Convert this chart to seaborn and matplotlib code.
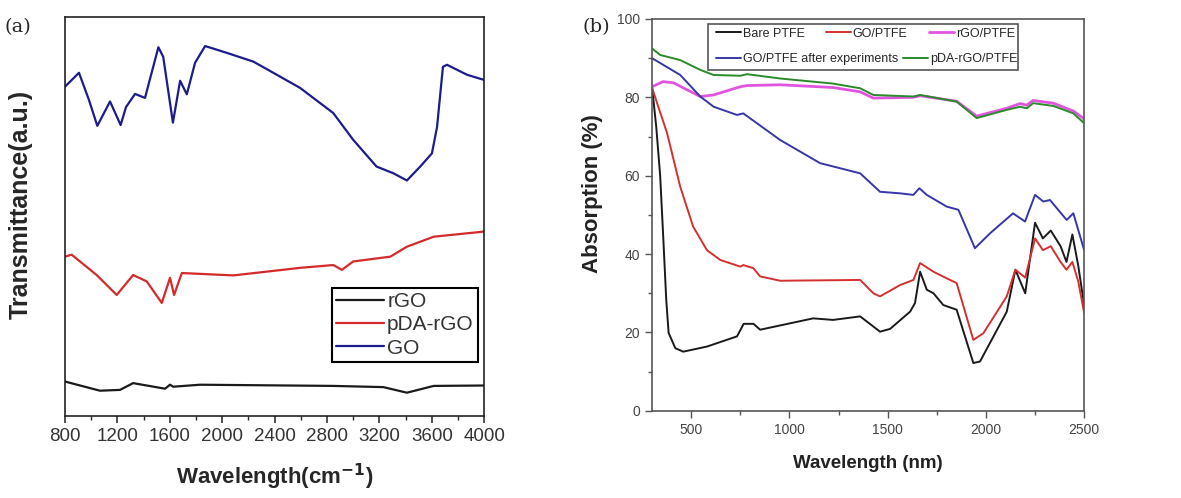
import numpy as np
import pandas as pd
import matplotlib
matplotlib.use("Agg")
import matplotlib.pyplot as plt
from matplotlib.ticker import MultipleLocator
from matplotlib.patches import Rectangle
import seaborn as sns

# ---------------- Panel (a) data: FTIR (arbitrary units) ----------------
go_x = [800, 907, 983, 1047, 1144, 1225, 1266, 1335, 1411, 1513, 1550, 1624, 1679, 1730,
        1793, 1870, 2035, 2238, 2390, 2595, 2848, 3000, 3178, 3307, 3410, 3512, 3601,
        3640, 3685, 3716, 3869, 4000]
go_y = [82.5, 86.0, 79.2, 72.7, 78.8, 72.9, 77.4, 80.7, 79.7, 92.4, 90.0, 73.5, 84.0, 80.6,
        88.5, 92.7, 91.0, 88.8, 86.0, 82.2, 75.9, 69.2, 62.5, 60.8, 59.0, 62.5, 65.8,
        72.4, 87.5, 88.0, 85.5, 84.2]

pda_x = [800, 851, 1042, 1195, 1320, 1424, 1539, 1602, 1633, 1692, 2085, 2595, 2848, 2914,
         3000, 3283, 3410, 3614, 4000]
pda_y = [39.9, 40.4, 35.3, 30.3, 35.3, 33.7, 28.3, 34.6, 30.3, 35.8, 35.2, 37.1, 37.8, 36.6,
         38.7, 39.9, 42.4, 44.9, 46.2]

rgo_x = [800, 1067, 1220, 1320, 1564, 1602, 1626, 1831, 2848, 3230, 3410, 3614, 4000]
rgo_y = [8.6, 6.3, 6.5, 8.2, 6.8, 7.8, 7.3, 7.8, 7.5, 7.2, 5.8, 7.5, 7.6]

a_xticks = [800, 1200, 1600, 2000, 2400, 2800, 3200, 3600, 4000]

# ---------------- Panel (b) data: absorption (%) ----------------
bare_x = [300, 322, 342, 357, 373, 385, 419, 459, 580, 733, 767, 817, 851, 1121, 1222, 1360,
          1461, 1512, 1614, 1639, 1665, 1699, 1733, 1783, 1851, 1936, 1970, 2106, 2150,
          2200, 2250, 2290, 2330, 2380, 2410, 2440, 2470, 2500]
bare_y = [83.0, 72.5, 60.0, 45.0, 28.3, 19.9, 16.0, 15.1, 16.4, 19.0, 22.2, 22.2, 20.7, 23.6,
          23.2, 24.1, 20.2, 20.9, 25.3, 27.5, 35.5, 30.9, 30.0, 27.0, 25.8, 12.2, 12.6, 25.3,
          36.0, 30.0, 48.0, 44.0, 46.0, 42.0, 38.0, 45.0, 37.0, 27.0]

gopt_x = [300, 377, 444, 510, 580, 648, 750, 765, 816, 851, 953, 1360, 1427, 1461, 1563,
          1631, 1665, 1733, 1801, 1851, 1936, 1987, 2106, 2150, 2200, 2250, 2290, 2330,
          2380, 2410, 2440, 2470, 2500]
gopt_y = [82.5, 70.9, 57.2, 47.0, 41.0, 38.5, 36.8, 37.2, 36.4, 34.3, 33.2, 33.4, 30.0, 29.2,
          32.1, 33.4, 37.7, 35.5, 33.8, 32.6, 18.1, 19.8, 29.2, 36.0, 34.0, 44.0, 41.0, 42.0,
          38.0, 36.0, 38.0, 33.0, 25.0]

rgopt_x = [300, 357, 410, 546, 614, 750, 784, 953, 1222, 1360, 1427, 1631, 1665, 1851, 1953,
           2106, 2174, 2208, 2240, 2343, 2445, 2500]
rgopt_y = [82.7, 84.0, 83.7, 80.2, 80.6, 82.7, 83.0, 83.2, 82.5, 81.4, 79.8, 80.0, 80.4, 79.0,
           75.2, 77.2, 78.4, 78.0, 79.2, 78.5, 76.5, 74.5]

after_x = [300, 444, 546, 614, 733, 765, 953, 1156, 1360, 1461, 1563, 1631, 1661, 1699, 1801,
           1860, 1944, 2021, 2138, 2199, 2250, 2292, 2326, 2411, 2445, 2500]
after_y = [90.0, 85.7, 80.2, 77.6, 75.5, 75.9, 69.1, 63.2, 60.6, 55.9, 55.5, 55.1, 56.8, 55.1,
           52.1, 51.3, 41.5, 45.3, 50.4, 48.3, 55.1, 53.4, 53.8, 48.7, 50.4, 41.0]

pda_pt_x = [300, 342, 444, 546, 614, 750, 784, 953, 1222, 1360, 1427, 1631, 1665, 1851, 1953,
            2106, 2174, 2208, 2240, 2343, 2445, 2500]
pda_pt_y = [92.5, 90.8, 89.5, 87.0, 85.7, 85.5, 85.9, 84.8, 83.5, 82.3, 80.6, 80.2, 80.6, 78.9,
            74.7, 76.8, 77.6, 77.2, 78.5, 77.8, 75.9, 73.4]

b_xticks = [500, 1000, 1500, 2000, 2500]
b_yticks = [0, 20, 40, 60, 80, 100]

# ---------------- Figure ----------------
sns.set_style("ticks")
plt.rcParams['font.family'] = ['Liberation Sans', 'DejaVu Sans']

fig = plt.figure(figsize=(11.81, 4.98), dpi=100)
axa = fig.add_axes([0.055, 0.165, 0.355, 0.801])
axb = fig.add_axes([0.552, 0.175, 0.366, 0.787])

# Panel (a)
sns.lineplot(x=rgo_x, y=rgo_y, ax=axa, color='#1a1a1a', lw=1.6, label='rGO')
sns.lineplot(x=pda_x, y=pda_y, ax=axa, color='#d42a2a', lw=1.6, label='pDA-rGO')
sns.lineplot(x=go_x, y=go_y, ax=axa, color='#1c1c8c', lw=1.6, label='GO')
axa.set_xlim(800, 4000)
axa.set_ylim(0, 100)
axa.set_xticks(a_xticks)
axa.xaxis.set_minor_locator(MultipleLocator(200))
axa.set_yticks([])
axa.tick_params(axis='x', which='major', direction='out', length=5, width=1.2,
                labelsize=13.5, labelcolor='#333333', colors='#333333')
axa.tick_params(axis='x', which='minor', direction='out', length=3, width=1.0)
for s in axa.spines.values():
    s.set_color('#222222')
    s.set_linewidth(1.2)
axa.set_xlabel('Wavelength(cm$^{\\mathbf{-1}}$)', fontsize=16, fontweight='bold')
axa.xaxis.set_label_coords(0.5, -0.115)
axa.set_ylabel('Transmittance(a.u.)', fontsize=18, fontweight='bold')
axa.yaxis.set_label_coords(-0.078, 0.53)
lega = axa.legend(loc='lower right', bbox_to_anchor=(0.995, 0.125), fontsize=15,
                  frameon=True, fancybox=False, edgecolor='black', framealpha=1,
                  handlelength=2.3, labelspacing=0.2, borderpad=0.2, handletextpad=0.15,
                  borderaxespad=0.2)
lega.get_frame().set_linewidth(1.5)
for t in lega.get_texts():
    t.set_color('#333333')

# Panel (b)
sns.lineplot(x=bare_x, y=bare_y, ax=axb, color='#1a1a1a', lw=1.4, label='Bare PTFE')
sns.lineplot(x=gopt_x, y=gopt_y, ax=axb, color='#d43030', lw=1.4, label='GO/PTFE')
sns.lineplot(x=rgopt_x, y=rgopt_y, ax=axb, color='#e055e0', lw=2.0, label='rGO/PTFE')
sns.lineplot(x=after_x, y=after_y, ax=axb, color='#3636a8', lw=1.4, label='GO/PTFE after experiments')
sns.lineplot(x=pda_pt_x, y=pda_pt_y, ax=axb, color='#2a8a2a', lw=1.4, label='pDA-rGO/PTFE')
axb.set_xlim(300, 2500)
axb.set_ylim(0, 100)
axb.set_xticks(b_xticks)
axb.set_yticks(b_yticks)
axb.xaxis.set_minor_locator(MultipleLocator(250))
axb.yaxis.set_minor_locator(MultipleLocator(10))
axb.tick_params(which='major', direction='out', length=5, width=1.0,
                labelsize=10, labelcolor='#444444', colors='#555555')
axb.tick_params(which='minor', direction='out', length=3, width=1.0, colors='#555555')
for s in axb.spines.values():
    s.set_color('#555555')
    s.set_linewidth(1.2)
axb.set_xlabel('Wavelength (nm)', fontsize=13.5, fontweight='bold', color='#222222')
axb.xaxis.set_label_coords(0.5, -0.112)
axb.set_ylabel('Absorption (%)', fontsize=16, fontweight='bold', color='#222222')
axb.yaxis.set_label_coords(-0.113, 0.554)

h, l = axb.get_legend_handles_labels()
axb.get_legend().remove()
frame = Rectangle((0.13, 0.870), 0.718, 0.117, transform=axb.transAxes,
                  facecolor='white', edgecolor='#555555', lw=1.2, zorder=4)
axb.add_patch(frame)
common = dict(fontsize=9, frameon=False, handlelength=2.0, handletextpad=0.15,
              borderpad=0.0, borderaxespad=0.0, loc='center left')
leg1 = axb.legend([h[0], h[1], h[2]], [l[0], l[1], l[2]], ncol=3, columnspacing=1.7,
                  bbox_to_anchor=(0.148, 0.962), **common)
leg1.set_zorder(5)
axb.add_artist(leg1)
leg2 = axb.legend([h[3], h[4]], [l[3], l[4]], ncol=2, columnspacing=0.4,
                  bbox_to_anchor=(0.148, 0.897), **common)
leg2.set_zorder(5)

fig.text(0.004, 0.935, '(a)', fontsize=14, family='DejaVu Serif')
fig.text(0.493, 0.935, '(b)', fontsize=14, family='DejaVu Serif')

fig.savefig('out.png', dpi=100)
